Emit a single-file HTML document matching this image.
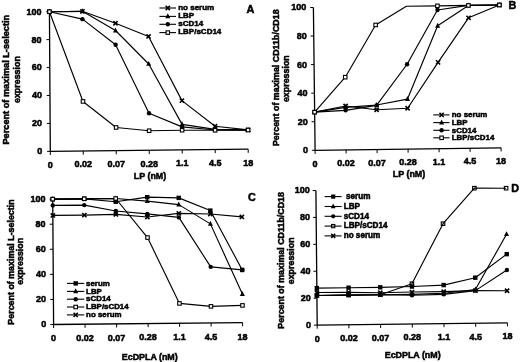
<!DOCTYPE html><html><head><meta charset="utf-8"><style>html,body{margin:0;padding:0;background:#fff;}svg{display:block;will-change:transform;}</style></head><body><svg width="520" height="362" viewBox="0 0 520 362" style="font-family:'Liberation Sans',sans-serif;font-weight:bold">
<rect width="520" height="362" fill="#fff"/>
<style>text{stroke:#000;stroke-width:0.5px;}</style>
<path d="M49.44 11.7L50.3 151.4L248.2 149.2" stroke="#000" stroke-width="1.3" fill="none"/>
<path d="M47.1 151.4H50.3" stroke="#000" stroke-width="1"/>
<path d="M46.93 123.46H50.13" stroke="#000" stroke-width="1"/>
<path d="M46.76 95.52H49.96" stroke="#000" stroke-width="1"/>
<path d="M46.58 67.58H49.78" stroke="#000" stroke-width="1"/>
<path d="M46.41 39.64H49.61" stroke="#000" stroke-width="1"/>
<path d="M46.24 11.7H49.44" stroke="#000" stroke-width="1"/>
<path d="M50.3 151.4V155" stroke="#000" stroke-width="1"/>
<path d="M83.28 151.03V154.63" stroke="#000" stroke-width="1"/>
<path d="M116.27 150.67V154.27" stroke="#000" stroke-width="1"/>
<path d="M149.25 150.3V153.9" stroke="#000" stroke-width="1"/>
<path d="M182.23 149.93V153.53" stroke="#000" stroke-width="1"/>
<path d="M215.22 149.57V153.17" stroke="#000" stroke-width="1"/>
<path d="M248.2 149.2V152.8" stroke="#000" stroke-width="1"/>
<path d="M49.44 11.7L82.42 11.33L115.48 23.26L148.55 36.44L181.93 100.62L215.07 126.24L248.08 129.92" stroke="#000" stroke-width="1.15" fill="none" stroke-linejoin="round"/>
<path d="M49.44 11.7L82.42 11.33L115.53 30.52L148.72 63.97L182.08 124.37L215.09 129.31L248.08 129.92" stroke="#000" stroke-width="1.15" fill="none" stroke-linejoin="round"/>
<path d="M49.44 11.7L82.47 19.16L115.61 44.77L149.02 113.28L182.09 126.88L215.1 130.01L248.08 129.92" stroke="#000" stroke-width="1.15" fill="none" stroke-linejoin="round"/>
<path d="M49.44 11.7L82.98 101.44L116.12 127.48L149.13 130.74L182.11 130.24L215.1 130.29L248.08 130.06" stroke="#000" stroke-width="1.15" fill="none" stroke-linejoin="round"/>
<path d="M47.34 9.6L51.54 13.8M47.34 13.8L51.54 9.6" stroke="#000" stroke-width="1.6" fill="none"/>
<path d="M80.32 9.23L84.52 13.43M80.32 13.43L84.52 9.23" stroke="#000" stroke-width="1.6" fill="none"/>
<path d="M113.38 21.16L117.58 25.36M113.38 25.36L117.58 21.16" stroke="#000" stroke-width="1.6" fill="none"/>
<path d="M146.45 34.34L150.65 38.54M146.45 38.54L150.65 34.34" stroke="#000" stroke-width="1.6" fill="none"/>
<path d="M179.83 98.52L184.03 102.72M179.83 102.72L184.03 98.52" stroke="#000" stroke-width="1.6" fill="none"/>
<path d="M212.97 124.14L217.17 128.34M212.97 128.34L217.17 124.14" stroke="#000" stroke-width="1.6" fill="none"/>
<path d="M245.98 127.82L250.18 132.02M245.98 132.02L250.18 127.82" stroke="#000" stroke-width="1.6" fill="none"/>
<path d="M49.44 8.66L51.94 13.56L46.94 13.56Z" fill="#000"/>
<path d="M82.42 8.3L84.92 13.2L79.92 13.2Z" fill="#000"/>
<path d="M115.53 27.49L118.03 32.39L113.03 32.39Z" fill="#000"/>
<path d="M148.72 60.93L151.22 65.83L146.22 65.83Z" fill="#000"/>
<path d="M182.08 121.33L184.58 126.23L179.58 126.23Z" fill="#000"/>
<path d="M215.09 126.27L217.59 131.17L212.59 131.17Z" fill="#000"/>
<path d="M248.08 126.88L250.58 131.78L245.58 131.78Z" fill="#000"/>
<circle cx="49.44" cy="11.7" r="2.2" fill="#000"/>
<circle cx="82.47" cy="19.16" r="2.2" fill="#000"/>
<circle cx="115.61" cy="44.77" r="2.2" fill="#000"/>
<circle cx="149.02" cy="113.28" r="2.2" fill="#000"/>
<circle cx="182.09" cy="126.88" r="2.2" fill="#000"/>
<circle cx="215.1" cy="130.01" r="2.2" fill="#000"/>
<circle cx="248.08" cy="129.92" r="2.2" fill="#000"/>
<rect x="47.69" y="9.95" width="3.5" height="3.5" fill="#fff" stroke="#000" stroke-width="1.1"/>
<rect x="81.23" y="99.69" width="3.5" height="3.5" fill="#fff" stroke="#000" stroke-width="1.1"/>
<rect x="114.37" y="125.73" width="3.5" height="3.5" fill="#fff" stroke="#000" stroke-width="1.1"/>
<rect x="147.38" y="128.99" width="3.5" height="3.5" fill="#fff" stroke="#000" stroke-width="1.1"/>
<rect x="180.36" y="128.49" width="3.5" height="3.5" fill="#fff" stroke="#000" stroke-width="1.1"/>
<rect x="213.35" y="128.54" width="3.5" height="3.5" fill="#fff" stroke="#000" stroke-width="1.1"/>
<rect x="246.33" y="128.31" width="3.5" height="3.5" fill="#fff" stroke="#000" stroke-width="1.1"/>
<text x="42.3" y="154.3" font-size="9" text-anchor="end">0</text>
<text x="42.13" y="126.36" font-size="9" text-anchor="end">20</text>
<text x="41.96" y="98.42" font-size="9" text-anchor="end">40</text>
<text x="41.78" y="70.48" font-size="9" text-anchor="end">60</text>
<text x="41.61" y="42.54" font-size="9" text-anchor="end">80</text>
<text x="41.44" y="14.6" font-size="9" text-anchor="end">100</text>
<text x="50.3" y="167.7" font-size="9" text-anchor="middle">0</text>
<text x="83.28" y="167.33" font-size="9" text-anchor="middle">0.02</text>
<text x="116.27" y="166.97" font-size="9" text-anchor="middle">0.07</text>
<text x="149.25" y="166.6" font-size="9" text-anchor="middle">0.28</text>
<text x="182.23" y="166.23" font-size="9" text-anchor="middle">1.1</text>
<text x="215.22" y="165.87" font-size="9" text-anchor="middle">4.5</text>
<text x="248.2" y="165.5" font-size="9" text-anchor="middle">18</text>
<text x="150" y="178.6" font-size="8.9" text-anchor="middle">LP (nM)</text>
<text transform="translate(8.5 79.7) rotate(-90)" font-size="9.2" text-anchor="middle">Percent of maximal L-selectin</text>
<text transform="translate(20 79.6) rotate(-90)" font-size="8.9" text-anchor="middle">expression</text>
<path d="M159.4 8H176" stroke="#000" stroke-width="1.1"/>
<path d="M165.7 5.9L169.9 10.1M165.7 10.1L169.9 5.9" stroke="#000" stroke-width="1.6" fill="none"/>
<text x="178.2" y="9.88" font-size="8" text-anchor="start">no serum</text>
<path d="M159.4 16.4H176" stroke="#000" stroke-width="1.1"/>
<path d="M167.8 13.36L170.3 18.26L165.3 18.26Z" fill="#000"/>
<text x="178.2" y="18.28" font-size="8" text-anchor="start">LBP</text>
<path d="M159.4 24.3H176" stroke="#000" stroke-width="1.1"/>
<circle cx="167.8" cy="24.3" r="2.2" fill="#000"/>
<text x="178.2" y="26.18" font-size="8" text-anchor="start">sCD14</text>
<path d="M159.4 32.6H176" stroke="#000" stroke-width="1.1"/>
<rect x="166.05" y="30.85" width="3.5" height="3.5" fill="#fff" stroke="#000" stroke-width="1.1"/>
<text x="178.2" y="34.48" font-size="8" text-anchor="start">LBP/sCD14</text>
<text x="250.5" y="13" font-size="10.8" text-anchor="middle">A</text>
<path d="M313.4 7.5L315.1 150.3L501.1 147.8" stroke="#000" stroke-width="1.3" fill="none"/>
<path d="M311.9 150.3H315.1" stroke="#000" stroke-width="1"/>
<path d="M311.56 121.74H314.76" stroke="#000" stroke-width="1"/>
<path d="M311.22 93.18H314.42" stroke="#000" stroke-width="1"/>
<path d="M310.88 64.62H314.08" stroke="#000" stroke-width="1"/>
<path d="M310.54 36.06H313.74" stroke="#000" stroke-width="1"/>
<path d="M310.2 7.5H313.4" stroke="#000" stroke-width="1"/>
<path d="M315.1 150.3V153.9" stroke="#000" stroke-width="1"/>
<path d="M346.1 149.88V153.48" stroke="#000" stroke-width="1"/>
<path d="M377.1 149.47V153.07" stroke="#000" stroke-width="1"/>
<path d="M408.1 149.05V152.65" stroke="#000" stroke-width="1"/>
<path d="M439.1 148.63V152.23" stroke="#000" stroke-width="1"/>
<path d="M470.1 148.22V151.82" stroke="#000" stroke-width="1"/>
<path d="M501.1 147.8V151.4" stroke="#000" stroke-width="1"/>
<path d="M314.65 112.17L345.58 106.04L376.63 109.77L407.61 108.21L438.07 62.38L468.55 17.84L499.4 5" stroke="#000" stroke-width="1.15" fill="none" stroke-linejoin="round"/>
<path d="M314.65 112.17L345.59 107.33L376.57 105.06L407.5 99.07L437.64 25.83L468.4 5.42L499.4 5" stroke="#000" stroke-width="1.15" fill="none" stroke-linejoin="round"/>
<path d="M314.65 112.17L345.63 110.33L376.57 105.34L407.09 64.23L437.45 9.97L468.4 5.42L499.4 5" stroke="#000" stroke-width="1.15" fill="none" stroke-linejoin="round"/>
<path d="M314.65 112.17L345.23 77.2L375.62 24.95L406.4 6.25L437.4 5.83L468.4 5.42L499.4 5" stroke="#000" stroke-width="1.15" fill="none" stroke-linejoin="round"/>
<path d="M312.55 110.07L316.75 114.27M312.55 114.27L316.75 110.07" stroke="#000" stroke-width="1.6" fill="none"/>
<path d="M343.48 103.94L347.68 108.14M343.48 108.14L347.68 103.94" stroke="#000" stroke-width="1.6" fill="none"/>
<path d="M374.53 107.67L378.73 111.87M374.53 111.87L378.73 107.67" stroke="#000" stroke-width="1.6" fill="none"/>
<path d="M405.51 106.11L409.71 110.31M405.51 110.31L409.71 106.11" stroke="#000" stroke-width="1.6" fill="none"/>
<path d="M435.97 60.28L440.17 64.48M435.97 64.48L440.17 60.28" stroke="#000" stroke-width="1.6" fill="none"/>
<path d="M466.45 15.74L470.65 19.94M466.45 19.94L470.65 15.74" stroke="#000" stroke-width="1.6" fill="none"/>
<path d="M497.3 2.9L501.5 7.1M497.3 7.1L501.5 2.9" stroke="#000" stroke-width="1.6" fill="none"/>
<path d="M314.65 109.13L317.15 114.03L312.15 114.03Z" fill="#000"/>
<path d="M345.59 104.29L348.09 109.19L343.09 109.19Z" fill="#000"/>
<path d="M376.57 102.02L379.07 106.92L374.07 106.92Z" fill="#000"/>
<path d="M407.5 96.03L410 100.93L405 100.93Z" fill="#000"/>
<path d="M437.64 22.79L440.14 27.69L435.14 27.69Z" fill="#000"/>
<path d="M468.4 2.38L470.9 7.28L465.9 7.28Z" fill="#000"/>
<path d="M499.4 1.96L501.9 6.86L496.9 6.86Z" fill="#000"/>
<circle cx="314.65" cy="112.17" r="2.2" fill="#000"/>
<circle cx="345.63" cy="110.33" r="2.2" fill="#000"/>
<circle cx="376.57" cy="105.34" r="2.2" fill="#000"/>
<circle cx="407.09" cy="64.23" r="2.2" fill="#000"/>
<circle cx="437.45" cy="9.97" r="2.2" fill="#000"/>
<circle cx="468.4" cy="5.42" r="2.2" fill="#000"/>
<circle cx="499.4" cy="5" r="2.2" fill="#000"/>
<rect x="312.9" y="110.42" width="3.5" height="3.5" fill="#fff" stroke="#000" stroke-width="1.1"/>
<rect x="343.48" y="75.45" width="3.5" height="3.5" fill="#fff" stroke="#000" stroke-width="1.1"/>
<rect x="373.87" y="23.2" width="3.5" height="3.5" fill="#fff" stroke="#000" stroke-width="1.1"/>
<rect x="435.65" y="4.08" width="3.5" height="3.5" fill="#fff" stroke="#000" stroke-width="1.1"/>
<rect x="466.65" y="3.67" width="3.5" height="3.5" fill="#fff" stroke="#000" stroke-width="1.1"/>
<rect x="497.65" y="3.25" width="3.5" height="3.5" fill="#fff" stroke="#000" stroke-width="1.1"/>
<text x="308.1" y="153.2" font-size="9" text-anchor="end">0</text>
<text x="307.76" y="124.64" font-size="9" text-anchor="end">20</text>
<text x="307.42" y="96.08" font-size="9" text-anchor="end">40</text>
<text x="307.08" y="67.52" font-size="9" text-anchor="end">60</text>
<text x="306.74" y="38.96" font-size="9" text-anchor="end">80</text>
<text x="306.4" y="10.4" font-size="9" text-anchor="end">100</text>
<text x="315.1" y="166.5" font-size="9" text-anchor="middle">0</text>
<text x="346.1" y="166.08" font-size="9" text-anchor="middle">0.02</text>
<text x="377.1" y="165.67" font-size="9" text-anchor="middle">0.07</text>
<text x="408.1" y="165.25" font-size="9" text-anchor="middle">0.28</text>
<text x="439.1" y="164.83" font-size="9" text-anchor="middle">1.1</text>
<text x="470.1" y="164.42" font-size="9" text-anchor="middle">4.5</text>
<text x="501.1" y="164" font-size="9" text-anchor="middle">18</text>
<text x="409" y="176.5" font-size="8.9" text-anchor="middle">LP (nM)</text>
<text transform="translate(278.8 77.75) rotate(-90)" font-size="8.9" text-anchor="middle">Percent of maximal CD11b/CD18</text>
<text transform="translate(289.3 78.65) rotate(-90)" font-size="8.9" text-anchor="middle">expression</text>
<path d="M433.3 114.9H449.5" stroke="#000" stroke-width="1.1"/>
<path d="M439.5 112.8L443.7 117M439.5 117L443.7 112.8" stroke="#000" stroke-width="1.6" fill="none"/>
<text x="451.8" y="117.14" font-size="7.9" text-anchor="start">no serum</text>
<path d="M433.3 122.6H449.5" stroke="#000" stroke-width="1.1"/>
<path d="M441.6 119.56L444.1 124.46L439.1 124.46Z" fill="#000"/>
<text x="451.8" y="124.84" font-size="7.9" text-anchor="start">LBP</text>
<path d="M433.3 130.3H449.5" stroke="#000" stroke-width="1.1"/>
<circle cx="441.6" cy="130.3" r="2.2" fill="#000"/>
<text x="451.8" y="132.54" font-size="7.9" text-anchor="start">sCD14</text>
<path d="M433.3 137.8H449.5" stroke="#000" stroke-width="1.1"/>
<rect x="439.85" y="136.05" width="3.5" height="3.5" fill="#fff" stroke="#000" stroke-width="1.1"/>
<text x="451.8" y="140.04" font-size="7.9" text-anchor="start">LBP/sCD14</text>
<text x="512.5" y="9.2" font-size="10.8" text-anchor="middle">B</text>
<path d="M52.72 199.12L53.6 324.5L242.6 322.6" stroke="#000" stroke-width="1.3" fill="none"/>
<path d="M50.4 324.5H53.6" stroke="#000" stroke-width="1"/>
<path d="M50.22 299.43H53.42" stroke="#000" stroke-width="1"/>
<path d="M50.05 274.35H53.25" stroke="#000" stroke-width="1"/>
<path d="M49.88 249.27H53.08" stroke="#000" stroke-width="1"/>
<path d="M49.7 224.2H52.9" stroke="#000" stroke-width="1"/>
<path d="M49.52 199.12H52.72" stroke="#000" stroke-width="1"/>
<path d="M53.6 324.5V328.1" stroke="#000" stroke-width="1"/>
<path d="M85.1 324.18V327.78" stroke="#000" stroke-width="1"/>
<path d="M116.6 323.87V327.47" stroke="#000" stroke-width="1"/>
<path d="M148.1 323.55V327.15" stroke="#000" stroke-width="1"/>
<path d="M179.6 323.23V326.83" stroke="#000" stroke-width="1"/>
<path d="M211.1 322.92V326.52" stroke="#000" stroke-width="1"/>
<path d="M242.6 322.6V326.2" stroke="#000" stroke-width="1"/>
<path d="M52.72 199.12L84.22 198.81L115.75 201.75L147.22 197.17L178.72 197.86L210.32 210.58L242.23 269.94" stroke="#000" stroke-width="1.15" fill="none" stroke-linejoin="round"/>
<path d="M52.72 199.12L84.22 198.81L115.72 198.49L147.25 201.18L178.77 204.63L210.41 223.87L242.4 294.01" stroke="#000" stroke-width="1.15" fill="none" stroke-linejoin="round"/>
<path d="M52.77 205.39L84.27 205.08L115.81 211.03L147.33 213.85L178.86 217.42L210.71 266.87L242.23 269.94" stroke="#000" stroke-width="1.15" fill="none" stroke-linejoin="round"/>
<path d="M52.72 199.12L84.22 198.81L115.72 198.49L147.5 237.54L179.46 303.42L210.98 306.37L242.48 305.42" stroke="#000" stroke-width="1.15" fill="none" stroke-linejoin="round"/>
<path d="M52.84 215.42L84.34 215.11L115.84 214.41L147.36 216.98L178.83 213.4L210.34 213.97L241.86 216.91" stroke="#000" stroke-width="1.15" fill="none" stroke-linejoin="round"/>
<rect x="50.52" y="196.93" width="4.4" height="4.4" fill="#000"/>
<rect x="82.02" y="196.61" width="4.4" height="4.4" fill="#000"/>
<rect x="113.55" y="199.55" width="4.4" height="4.4" fill="#000"/>
<rect x="145.02" y="194.97" width="4.4" height="4.4" fill="#000"/>
<rect x="176.53" y="195.66" width="4.4" height="4.4" fill="#000"/>
<rect x="208.12" y="208.38" width="4.4" height="4.4" fill="#000"/>
<rect x="240.03" y="267.74" width="4.4" height="4.4" fill="#000"/>
<path d="M52.72 196.09L55.22 200.99L50.22 200.99Z" fill="#000"/>
<path d="M84.22 195.77L86.72 200.67L81.72 200.67Z" fill="#000"/>
<path d="M115.72 195.45L118.22 200.35L113.22 200.35Z" fill="#000"/>
<path d="M147.25 198.15L149.75 203.05L144.75 203.05Z" fill="#000"/>
<path d="M178.77 201.59L181.27 206.49L176.27 206.49Z" fill="#000"/>
<path d="M210.41 220.83L212.91 225.73L207.91 225.73Z" fill="#000"/>
<path d="M242.4 290.98L244.9 295.88L239.9 295.88Z" fill="#000"/>
<circle cx="52.77" cy="205.39" r="2.2" fill="#000"/>
<circle cx="84.27" cy="205.08" r="2.2" fill="#000"/>
<circle cx="115.81" cy="211.03" r="2.2" fill="#000"/>
<circle cx="147.33" cy="213.85" r="2.2" fill="#000"/>
<circle cx="178.86" cy="217.42" r="2.2" fill="#000"/>
<circle cx="210.71" cy="266.87" r="2.2" fill="#000"/>
<circle cx="242.23" cy="269.94" r="2.2" fill="#000"/>
<rect x="50.97" y="197.38" width="3.5" height="3.5" fill="#fff" stroke="#000" stroke-width="1.1"/>
<rect x="82.47" y="197.06" width="3.5" height="3.5" fill="#fff" stroke="#000" stroke-width="1.1"/>
<rect x="113.97" y="196.74" width="3.5" height="3.5" fill="#fff" stroke="#000" stroke-width="1.1"/>
<rect x="145.75" y="235.79" width="3.5" height="3.5" fill="#fff" stroke="#000" stroke-width="1.1"/>
<rect x="177.71" y="301.67" width="3.5" height="3.5" fill="#fff" stroke="#000" stroke-width="1.1"/>
<rect x="209.23" y="304.62" width="3.5" height="3.5" fill="#fff" stroke="#000" stroke-width="1.1"/>
<rect x="240.73" y="303.67" width="3.5" height="3.5" fill="#fff" stroke="#000" stroke-width="1.1"/>
<path d="M50.74 213.32L54.94 217.52M50.74 217.52L54.94 213.32" stroke="#000" stroke-width="1.6" fill="none"/>
<path d="M82.24 213.01L86.44 217.21M82.24 217.21L86.44 213.01" stroke="#000" stroke-width="1.6" fill="none"/>
<path d="M113.74 212.31L117.94 216.51M113.74 216.51L117.94 212.31" stroke="#000" stroke-width="1.6" fill="none"/>
<path d="M145.26 214.88L149.46 219.08M145.26 219.08L149.46 214.88" stroke="#000" stroke-width="1.6" fill="none"/>
<path d="M176.73 211.3L180.93 215.5M176.73 215.5L180.93 211.3" stroke="#000" stroke-width="1.6" fill="none"/>
<path d="M208.24 211.87L212.44 216.07M208.24 216.07L212.44 211.87" stroke="#000" stroke-width="1.6" fill="none"/>
<path d="M239.76 214.81L243.96 219.01M239.76 219.01L243.96 214.81" stroke="#000" stroke-width="1.6" fill="none"/>
<text x="46.3" y="327.4" font-size="9" text-anchor="end">0</text>
<text x="46.12" y="302.32" font-size="9" text-anchor="end">20</text>
<text x="45.95" y="277.25" font-size="9" text-anchor="end">40</text>
<text x="45.78" y="252.17" font-size="9" text-anchor="end">60</text>
<text x="45.6" y="227.1" font-size="9" text-anchor="end">80</text>
<text x="45.42" y="202.03" font-size="9" text-anchor="end">100</text>
<text x="53.6" y="341.4" font-size="9" text-anchor="middle">0</text>
<text x="85.1" y="341.08" font-size="9" text-anchor="middle">0.02</text>
<text x="116.6" y="340.77" font-size="9" text-anchor="middle">0.07</text>
<text x="148.1" y="340.45" font-size="9" text-anchor="middle">0.28</text>
<text x="179.6" y="340.13" font-size="9" text-anchor="middle">1.1</text>
<text x="211.1" y="339.82" font-size="9" text-anchor="middle">4.5</text>
<text x="242.6" y="339.5" font-size="9" text-anchor="middle">18</text>
<text x="149.75" y="359.5" font-size="8.9" text-anchor="middle">EcDPLA (nM)</text>
<text transform="translate(13.6 262) rotate(-90)" font-size="8.9" text-anchor="middle">Percent of maximal L-selectin</text>
<text transform="translate(22.8 261.3) rotate(-90)" font-size="8.9" text-anchor="middle">expression</text>
<path d="M67 283.4H84.3" stroke="#000" stroke-width="1.1"/>
<rect x="73.5" y="281.2" width="4.4" height="4.4" fill="#000"/>
<text x="86.1" y="285.64" font-size="7.9" text-anchor="start">serum</text>
<path d="M67 291.4H84.3" stroke="#000" stroke-width="1.1"/>
<path d="M75.7 288.36L78.2 293.26L73.2 293.26Z" fill="#000"/>
<text x="86.1" y="293.64" font-size="7.9" text-anchor="start">LBP</text>
<path d="M67 299.2H84.3" stroke="#000" stroke-width="1.1"/>
<circle cx="75.7" cy="299.2" r="2.2" fill="#000"/>
<text x="86.1" y="301.44" font-size="7.9" text-anchor="start">sCD14</text>
<path d="M67 307H84.3" stroke="#000" stroke-width="1.1"/>
<rect x="73.95" y="305.25" width="3.5" height="3.5" fill="#fff" stroke="#000" stroke-width="1.1"/>
<text x="86.1" y="309.24" font-size="7.9" text-anchor="start">LBP/sCD14</text>
<path d="M67 314.9H84.3" stroke="#000" stroke-width="1.1"/>
<path d="M73.6 312.8L77.8 317M73.6 317L77.8 312.8" stroke="#000" stroke-width="1.6" fill="none"/>
<text x="86.1" y="317.14" font-size="7.9" text-anchor="start">no serum</text>
<text x="252" y="200.6" font-size="10.8" text-anchor="middle">C</text>
<path d="M315.9 190.5L317.2 325.1L507.4 322.8" stroke="#000" stroke-width="1.3" fill="none"/>
<path d="M314 325.1H317.2" stroke="#000" stroke-width="1"/>
<path d="M313.74 298.18H316.94" stroke="#000" stroke-width="1"/>
<path d="M313.48 271.26H316.68" stroke="#000" stroke-width="1"/>
<path d="M313.22 244.34H316.42" stroke="#000" stroke-width="1"/>
<path d="M312.96 217.42H316.16" stroke="#000" stroke-width="1"/>
<path d="M312.7 190.5H315.9" stroke="#000" stroke-width="1"/>
<path d="M317.2 325.1V328.7" stroke="#000" stroke-width="1"/>
<path d="M348.9 324.72V328.32" stroke="#000" stroke-width="1"/>
<path d="M380.6 324.33V327.93" stroke="#000" stroke-width="1"/>
<path d="M412.3 323.95V327.55" stroke="#000" stroke-width="1"/>
<path d="M444 323.57V327.17" stroke="#000" stroke-width="1"/>
<path d="M475.7 323.18V326.78" stroke="#000" stroke-width="1"/>
<path d="M507.4 322.8V326.4" stroke="#000" stroke-width="1"/>
<path d="M316.91 295.49L348.61 295.1L380.31 294.72L411.91 283.7L443.04 223.69L474.4 188.18L506.1 188.2" stroke="#000" stroke-width="1.15" fill="none" stroke-linejoin="round"/>
<path d="M316.84 288.09L348.54 287.7L380.24 287.32L411.94 286.53L443.63 285.07L475.26 277.69L506.74 254.15" stroke="#000" stroke-width="1.15" fill="none" stroke-linejoin="round"/>
<path d="M316.91 295.49L348.61 295.1L380.31 294.72L412.01 294.34L443.71 293.28L475.38 289.53L506.54 234.23" stroke="#000" stroke-width="1.15" fill="none" stroke-linejoin="round"/>
<path d="M316.91 295.49L348.61 295.1L380.31 294.72L412.02 295.28L443.72 294.36L475.39 290.61L506.89 270.04" stroke="#000" stroke-width="1.15" fill="none" stroke-linejoin="round"/>
<path d="M316.89 292.53L348.59 292.41L380.29 292.7L411.99 292.05L443.69 291.67L475.39 290.61L507.09 290.77" stroke="#000" stroke-width="1.15" fill="none" stroke-linejoin="round"/>
<rect x="315.16" y="293.74" width="3.5" height="3.5" fill="none" stroke="#000" stroke-width="1.1"/>
<rect x="346.86" y="293.35" width="3.5" height="3.5" fill="none" stroke="#000" stroke-width="1.1"/>
<rect x="378.56" y="292.97" width="3.5" height="3.5" fill="none" stroke="#000" stroke-width="1.1"/>
<rect x="410.16" y="281.95" width="3.5" height="3.5" fill="none" stroke="#000" stroke-width="1.1"/>
<rect x="441.29" y="221.94" width="3.5" height="3.5" fill="none" stroke="#000" stroke-width="1.1"/>
<rect x="472.65" y="186.43" width="3.5" height="3.5" fill="none" stroke="#000" stroke-width="1.1"/>
<rect x="504.35" y="186.45" width="3.5" height="3.5" fill="none" stroke="#000" stroke-width="1.1"/>
<rect x="314.64" y="285.89" width="4.4" height="4.4" fill="#000"/>
<rect x="346.34" y="285.5" width="4.4" height="4.4" fill="#000"/>
<rect x="378.04" y="285.12" width="4.4" height="4.4" fill="#000"/>
<rect x="409.74" y="284.33" width="4.4" height="4.4" fill="#000"/>
<rect x="441.43" y="282.87" width="4.4" height="4.4" fill="#000"/>
<rect x="473.06" y="275.49" width="4.4" height="4.4" fill="#000"/>
<rect x="504.54" y="251.95" width="4.4" height="4.4" fill="#000"/>
<path d="M316.91 292.45L319.41 297.35L314.41 297.35Z" fill="#000"/>
<path d="M348.61 292.07L351.11 296.97L346.11 296.97Z" fill="#000"/>
<path d="M380.31 291.68L382.81 296.58L377.81 296.58Z" fill="#000"/>
<path d="M412.01 291.3L414.51 296.2L409.51 296.2Z" fill="#000"/>
<path d="M443.71 290.24L446.21 295.14L441.21 295.14Z" fill="#000"/>
<path d="M475.38 286.5L477.88 291.4L472.88 291.4Z" fill="#000"/>
<path d="M506.54 231.2L509.04 236.1L504.04 236.1Z" fill="#000"/>
<circle cx="316.91" cy="295.49" r="2.2" fill="#000"/>
<circle cx="348.61" cy="295.1" r="2.2" fill="#000"/>
<circle cx="380.31" cy="294.72" r="2.2" fill="#000"/>
<circle cx="412.02" cy="295.28" r="2.2" fill="#000"/>
<circle cx="443.72" cy="294.36" r="2.2" fill="#000"/>
<circle cx="475.39" cy="290.61" r="2.2" fill="#000"/>
<circle cx="506.89" cy="270.04" r="2.2" fill="#000"/>
<path d="M314.79 290.43L318.99 294.63M314.79 294.63L318.99 290.43" stroke="#000" stroke-width="1.6" fill="none"/>
<path d="M346.49 290.31L350.69 294.51M346.49 294.51L350.69 290.31" stroke="#000" stroke-width="1.6" fill="none"/>
<path d="M378.19 290.6L382.39 294.8M378.19 294.8L382.39 290.6" stroke="#000" stroke-width="1.6" fill="none"/>
<path d="M409.89 289.95L414.09 294.15M409.89 294.15L414.09 289.95" stroke="#000" stroke-width="1.6" fill="none"/>
<path d="M441.59 289.57L445.79 293.77M441.59 293.77L445.79 289.57" stroke="#000" stroke-width="1.6" fill="none"/>
<path d="M473.29 288.51L477.49 292.71M473.29 292.71L477.49 288.51" stroke="#000" stroke-width="1.6" fill="none"/>
<path d="M504.99 288.67L509.19 292.87M504.99 292.87L509.19 288.67" stroke="#000" stroke-width="1.6" fill="none"/>
<text x="311.1" y="328" font-size="9" text-anchor="end">0</text>
<text x="310.84" y="301.08" font-size="9" text-anchor="end">20</text>
<text x="310.58" y="274.16" font-size="9" text-anchor="end">40</text>
<text x="310.32" y="247.24" font-size="9" text-anchor="end">60</text>
<text x="310.06" y="220.32" font-size="9" text-anchor="end">80</text>
<text x="309.8" y="193.4" font-size="9" text-anchor="end">100</text>
<text x="317.2" y="341.5" font-size="9" text-anchor="middle">0</text>
<text x="348.9" y="341.12" font-size="9" text-anchor="middle">0.02</text>
<text x="380.6" y="340.73" font-size="9" text-anchor="middle">0.07</text>
<text x="412.3" y="340.35" font-size="9" text-anchor="middle">0.28</text>
<text x="444" y="339.97" font-size="9" text-anchor="middle">1.1</text>
<text x="475.7" y="339.58" font-size="9" text-anchor="middle">4.5</text>
<text x="507.4" y="339.2" font-size="9" text-anchor="middle">18</text>
<text x="412.7" y="358.1" font-size="8.9" text-anchor="middle">EcDPLA (nM)</text>
<text transform="translate(283.8 260.35) rotate(-90)" font-size="8.9" text-anchor="middle">Percent of maximal CD11b/CD18</text>
<text transform="translate(293.5 260.85) rotate(-90)" font-size="8.9" text-anchor="middle">expression</text>
<path d="M324.6 196.6H341.6" stroke="#000" stroke-width="1.1"/>
<rect x="331.11" y="194.51" width="4.18" height="4.18" fill="#000"/>
<text x="343.7" y="198.93" font-size="8.15" text-anchor="start"><tspan dx="2.3">serum</tspan></text>
<path d="M324.6 206.5H341.6" stroke="#000" stroke-width="1.1"/>
<path d="M333.2 203.61L335.57 208.27L330.82 208.27Z" fill="#000"/>
<text x="343.7" y="208.83" font-size="8.15" text-anchor="start">LBP</text>
<path d="M324.6 216.3H341.6" stroke="#000" stroke-width="1.1"/>
<circle cx="333.2" cy="216.3" r="2.09" fill="#000"/>
<text x="343.7" y="218.63" font-size="8.15" text-anchor="start">sCD14</text>
<path d="M324.6 226.1H341.6" stroke="#000" stroke-width="1.1"/>
<rect x="331.54" y="224.44" width="3.32" height="3.32" fill="none" stroke="#000" stroke-width="1.04"/>
<text x="343.7" y="228.43" font-size="8.15" text-anchor="start">LBP/sCD14</text>
<path d="M324.6 235.9H341.6" stroke="#000" stroke-width="1.1"/>
<path d="M331.2 233.91L335.19 237.9M331.2 237.9L335.19 233.91" stroke="#000" stroke-width="1.52" fill="none"/>
<text x="343.7" y="238.23" font-size="8.15" text-anchor="start">no serum</text>
<text x="515.2" y="192.4" font-size="10.8" text-anchor="middle">D</text>
</svg></body></html>
